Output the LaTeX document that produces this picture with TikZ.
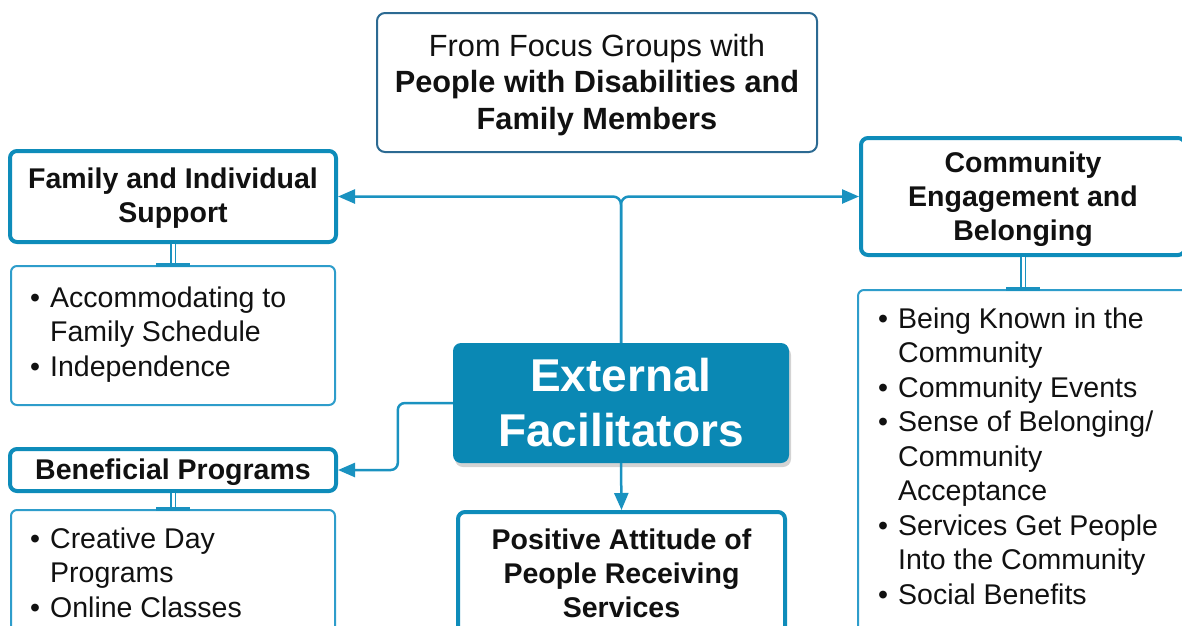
\documentclass[tikz,border=0pt]{standalone}
\usepackage{fontspec}
\setmainfont{Liberation Sans}
\usetikzlibrary{arrows.meta,shadows,calc}
\definecolor{thickblue}{HTML}{0E8CBA}
\definecolor{thinblue}{HTML}{2E9DCB}
\definecolor{darkblue}{HTML}{2C6A92}
\definecolor{extfill}{HTML}{0A88B4}
\definecolor{conncol}{HTML}{1A92C0}
\definecolor{txt}{HTML}{111111}
\tikzset{
  headbox/.style={draw=thickblue, line width=4pt, rounded corners=7pt, fill=white, inner sep=0pt},
  headtext/.style={inner sep=0pt, align=center, text=txt, font=\fontsize{28.5}{34}\selectfont\bfseries},
  listbox/.style={draw=thinblue, line width=2pt, rounded corners=6pt, fill=white, inner sep=0pt},
  listtext/.style={anchor=base west, inner sep=0pt, text=txt, font=\fontsize{28.5}{34.5}\selectfont},
  conn/.style={draw=conncol, line width=2.5pt},
  arr/.style={conn, -{Triangle[length=17pt,width=14pt]}},
  dbl/.style={draw=conncol, line width=1.4pt, double=white, double distance=3pt},
  bar/.style={draw=conncol, line width=4pt},
}
\newcommand{\blt}{\textbullet}
\begin{document}
\begin{tikzpicture}[x=1pt,y=-1pt]
\useasboundingbox (0,0) rectangle (1182,625);
\clip (0,0) rectangle (1182,625);

% top box
\node[draw=darkblue, line width=2pt, rounded corners=8pt, fill=white, inner sep=0pt,
  minimum width=440pt, minimum height=139pt] (top) at (597,82.5) {};
\node[inner sep=0pt, align=center, text=txt, font=\fontsize{30.7}{36.5}\selectfont]
  (topT) at ([yshift=-2.5pt]top.center) {From Focus Groups with\\ \textbf{People with Disabilities and}\\ \textbf{Family Members}};

% heading boxes
\node[headbox, minimum width=326pt, minimum height=91pt] (fam) at (173,196.5) {};
\node[headtext] (famT) at ([yshift=-1.5pt]fam.center) {Family and Individual\\Support};
\node[headbox, minimum width=326pt, minimum height=42pt] (ben) at (173,470) {};
\node[headtext] (benT) at ([yshift=-2.5pt]ben.center) {Beneficial Programs};
\node[headbox, minimum width=324pt, minimum height=117pt] (com) at (1023,196.5) {};
\node[headtext] (comT) at ([yshift=-3pt]com.center) {Community\\Engagement and\\Belonging};
\node[headbox, minimum width=327pt, minimum height=122pt] (pos) at (621.5,573) {};
\node[headtext] (posT) at ([yshift=0pt]pos.center) {Positive Attitude of\\People Receiving\\Services};

% central node
\node[fill=extfill, rounded corners=8pt, inner sep=0pt, minimum width=336pt, minimum height=120pt, align=center,
  text=white, font=\fontsize{46}{55}\selectfont\bfseries,
  drop shadow={opacity=0.35, shadow xshift=2pt, shadow yshift=-4pt}]
  (ext) at (621,403) {External\\Facilitators};

% list boxes
\node[listbox, minimum width=324pt, minimum height=139pt] (l1) at (173,335.5) {};
\node[listbox, minimum width=324pt, minimum height=140pt] (l2) at (173,580) {};
\node[listbox, minimum width=337pt, minimum height=360pt] (l3) at (1026.5,470) {};

% list texts
\node[listtext] (t1) at (30,307) {\begin{tabular}[t]{@{}p{20pt}@{}l@{}}\blt & Accommodating to\\ & Family Schedule\\ \blt & Independence\end{tabular}};
\node[listtext] (t2) at (30,548) {\begin{tabular}[t]{@{}p{20pt}@{}l@{}}\blt & Creative Day\\ & Programs\\ \blt & Online Classes\end{tabular}};
\node[listtext] (t3) at (878,328) {\begin{tabular}[t]{@{}p{20pt}@{}l@{}}\blt & Being Known in the\\ & Community\\ \blt & Community Events\\ \blt & Sense of Belonging/\\ & Community\\ & Acceptance\\ \blt & Services Get People\\ & Into the Community\\ \blt & Social Benefits\end{tabular}};

% connectors
\draw[arr, rounded corners=8pt] (ext.north) |- (fam.east);
\draw[arr, rounded corners=8pt] (ext.north) |- (com.west);
\draw[arr, rounded corners=7pt] (ext.west) -- ++(-55,0) |- (ben.east);
\draw[arr] (ext.south) -- (pos.north);

% double connectors
\draw[dbl] (fam.south) -- (l1.north);
\draw[bar] ([xshift=-17pt]l1.north) -- ([xshift=17pt]l1.north);
\draw[dbl] (ben.south) -- (l2.north);
\draw[bar] ([xshift=-17pt]l2.north) -- ([xshift=17pt]l2.north);
\coordinate (c3) at (com.south |- l3.north);
\draw[dbl] (com.south) -- (c3);
\draw[bar] ([xshift=-17pt]c3) -- ([xshift=17pt]c3);
\end{tikzpicture}
\end{document}
